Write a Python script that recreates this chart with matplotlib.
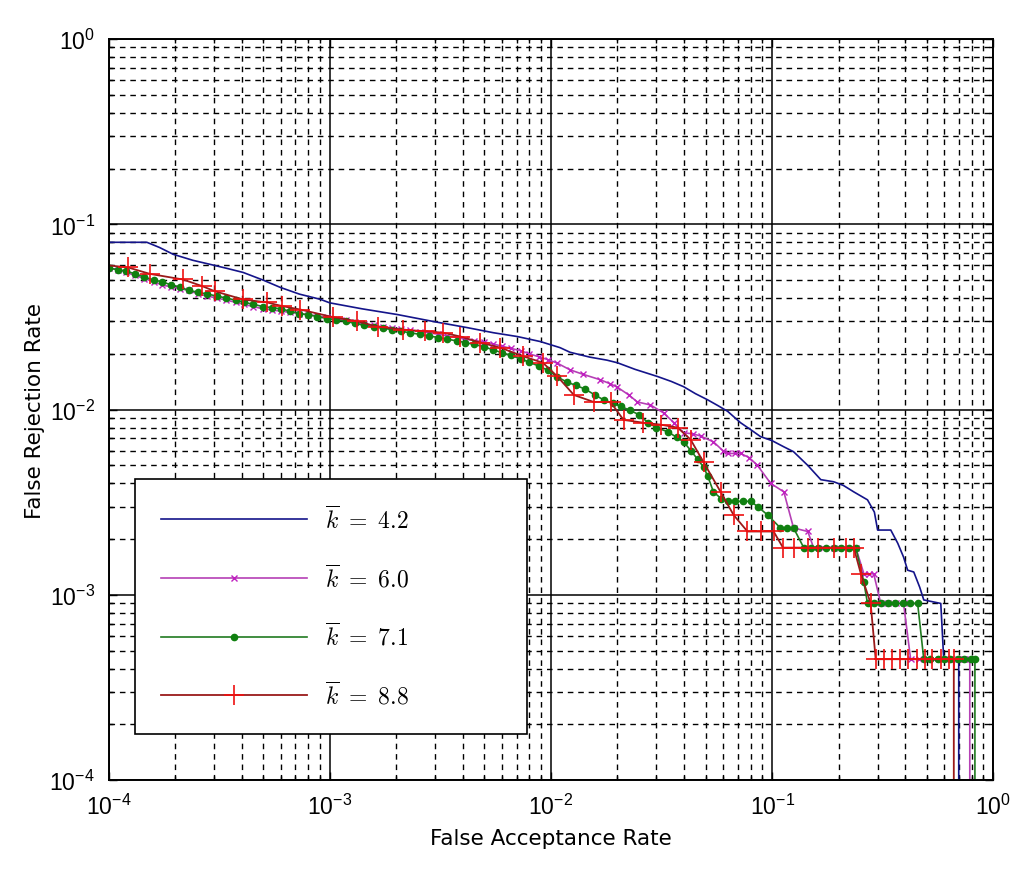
import matplotlib
matplotlib.use("Agg")
import matplotlib.pyplot as plt
from matplotlib.font_manager import FontProperties
from matplotlib.ticker import LogLocator, NullFormatter

plt.rcParams["font.family"] = ["Liberation Sans", "DejaVu Sans"]
plt.rcParams["mathtext.fontset"] = "custom"
plt.rcParams["mathtext.rm"] = "Liberation Sans"
plt.rcParams["mathtext.it"] = "Liberation Sans:italic"
plt.rcParams["mathtext.bf"] = "Liberation Sans:bold"

# ----------------------------
# Data
# ----------------------------
labels = [r"$\overline{k}\ =\ 4.2$", r"$\overline{k}\ =\ 6.0$",
          r"$\overline{k}\ =\ 7.1$", r"$\overline{k}\ =\ 8.8$"]

far_42 = [1.0e-4, 1.49e-4, 1.7e-4, 1.96e-4, 2.4e-4, 2.88e-4, 3.4e-4, 4.06e-4, 5.0e-4, 5.97e-4,
          7.3e-4, 9.06e-4, 1.0e-3, 1.4e-3, 2.02e-3, 2.94e-3, 4.19e-3, 5.5e-3, 7.05e-3, 8.96e-3,
          0.011, 0.0122, 0.0150, 0.0179, 0.0200, 0.0240, 0.0303, 0.0350, 0.0398, 0.0450,
          0.0511, 0.0570, 0.0629, 0.072, 0.080, 0.0887, 0.100, 0.113, 0.125, 0.145,
          0.166, 0.190, 0.210, 0.234, 0.270, 0.290, 0.300, 0.344, 0.370, 0.393,
          0.410, 0.437, 0.465, 0.485, 0.579, 0.597, 0.698, 0.698]
frr_42 = [0.080, 0.080, 0.075, 0.0689, 0.064, 0.0608, 0.058, 0.055, 0.050, 0.0457,
          0.042, 0.0394, 0.0377, 0.035, 0.0326, 0.0299, 0.0277, 0.026, 0.0248, 0.0233,
          0.0216, 0.0204, 0.0192, 0.0185, 0.0179, 0.0165, 0.0151, 0.0142, 0.0133, 0.0122,
          0.0113, 0.0105, 0.0098, 0.0085, 0.0078, 0.00715, 0.0068, 0.0063, 0.00593, 0.0050,
          0.00419, 0.00408, 0.0039, 0.0036, 0.00326, 0.0028, 0.00224, 0.00224, 0.0019, 0.0016,
          0.00136, 0.00133, 0.0011, 0.00094, 0.0009, 0.00045, 0.00045, 1e-6]

far_60 = [1.0e-4, 1.1e-4, 1.2e-4, 1.32e-4, 1.45e-4, 1.6e-4, 1.75e-4, 1.92e-4, 2.1e-4, 2.3e-4,
          2.55e-4, 2.8e-4, 3.1e-4, 3.4e-4, 3.75e-4, 4.1e-4, 4.5e-4, 5.0e-4, 5.5e-4, 6.0e-4,
          6.6e-4, 7.3e-4, 8.0e-4, 8.8e-4, 9.7e-4, 1.07e-3, 1.18e-3, 1.3e-3, 1.43e-3, 1.58e-3,
          1.74e-3, 1.92e-3, 2.1e-3, 2.3e-3, 2.55e-3, 2.8e-3, 3.1e-3, 3.4e-3, 3.75e-3, 4.1e-3,
          4.5e-3, 5.0e-3, 5.5e-3, 6.0e-3, 6.6e-3, 7.3e-3, 8.0e-3, 8.8e-3, 9.7e-3, 0.0107,
          0.0122, 0.0140, 0.0167, 0.0185, 0.0200, 0.0225, 0.0246, 0.0282, 0.0323, 0.0360,
          0.0398, 0.0440, 0.0475, 0.0543, 0.0600, 0.0629, 0.0680, 0.0720, 0.0790, 0.0859,
          0.0985, 0.113, 0.125, 0.145, 0.154, 0.170, 0.190, 0.212, 0.239, 0.260,
          0.273, 0.288, 0.310, 0.335, 0.365, 0.393, 0.423, 0.460, 0.500, 0.540,
          0.590, 0.640, 0.690, 0.740, 0.783, 0.783]
frr_60 = [0.058, 0.057, 0.055, 0.053, 0.051, 0.049, 0.047, 0.046, 0.045, 0.044,
          0.042, 0.041, 0.040, 0.039, 0.038, 0.037, 0.036, 0.035, 0.0345, 0.034,
          0.0335, 0.033, 0.0325, 0.032, 0.0315, 0.031, 0.0303, 0.0296, 0.029, 0.0285,
          0.028, 0.0276, 0.0272, 0.0268, 0.0264, 0.026, 0.0255, 0.025, 0.0245, 0.024,
          0.0236, 0.0232, 0.0226, 0.022, 0.0214, 0.0208, 0.0200, 0.0193, 0.0186, 0.0178,
          0.0164, 0.0155, 0.0145, 0.0138, 0.0132, 0.0120, 0.0110, 0.0106, 0.0096, 0.0085,
          0.0075, 0.0074, 0.0072, 0.0067, 0.0060, 0.0058, 0.0058, 0.0058, 0.0055, 0.0050,
          0.0040, 0.0036, 0.0023, 0.0022, 0.0018, 0.0018, 0.0018, 0.0018, 0.0018, 0.0013,
          0.0013, 0.0013, 0.0009, 0.0009, 0.0009, 0.0009, 0.00045, 0.00045, 0.00045, 0.00045,
          0.00045, 0.00045, 0.00045, 0.00045, 0.00045, 1e-6]

far_71 = [1.0e-4, 1.1e-4, 1.2e-4, 1.32e-4, 1.45e-4, 1.6e-4, 1.75e-4, 1.92e-4, 2.1e-4, 2.3e-4,
          2.55e-4, 2.8e-4, 3.1e-4, 3.4e-4, 3.75e-4, 4.1e-4, 4.5e-4, 5.0e-4, 5.5e-4, 6.0e-4,
          6.6e-4, 7.3e-4, 8.0e-4, 8.8e-4, 9.7e-4, 1.07e-3, 1.18e-3, 1.3e-3, 1.43e-3, 1.58e-3,
          1.74e-3, 1.92e-3, 2.1e-3, 2.3e-3, 2.55e-3, 2.8e-3, 3.1e-3, 3.4e-3, 3.75e-3, 4.1e-3,
          4.5e-3, 5.0e-3, 5.5e-3, 6.0e-3, 6.6e-3, 7.3e-3, 8.0e-3, 8.8e-3, 9.7e-3, 0.0107,
          0.0118, 0.0130, 0.0143, 0.0158, 0.0173, 0.0190, 0.0208, 0.0228, 0.0250, 0.0275,
          0.0300, 0.0337, 0.0370, 0.0398, 0.0430, 0.0460, 0.0490, 0.0511, 0.0543, 0.0590,
          0.0629, 0.0680, 0.0740, 0.0800, 0.0860, 0.0955, 0.109, 0.117, 0.125, 0.139,
          0.150, 0.162, 0.175, 0.190, 0.205, 0.222, 0.239, 0.260, 0.270, 0.290,
          0.310, 0.335, 0.360, 0.390, 0.420, 0.455, 0.485, 0.520, 0.560, 0.600,
          0.640, 0.690, 0.740, 0.790, 0.826, 0.826]
frr_71 = [0.058, 0.057, 0.056, 0.054, 0.052, 0.050, 0.049, 0.047, 0.046, 0.044,
          0.043, 0.042, 0.041, 0.040, 0.039, 0.038, 0.037, 0.036, 0.0355, 0.035,
          0.034, 0.033, 0.0325, 0.0318, 0.031, 0.0305, 0.030, 0.0292, 0.0285, 0.028,
          0.0275, 0.027, 0.0265, 0.026, 0.0255, 0.025, 0.0245, 0.024, 0.0235, 0.023,
          0.0225, 0.0218, 0.021, 0.0203, 0.0196, 0.0188, 0.0180, 0.0172, 0.0163, 0.0150,
          0.0141, 0.0135, 0.0129, 0.0120, 0.0113, 0.0108, 0.0104, 0.0099, 0.0094, 0.0085,
          0.0080, 0.0076, 0.0071, 0.0067, 0.0060, 0.0054, 0.0049, 0.0044, 0.0036, 0.0033,
          0.0032, 0.0032, 0.0032, 0.0032, 0.0030, 0.0027, 0.0023, 0.0023, 0.0023, 0.0018,
          0.0018, 0.0018, 0.0018, 0.0018, 0.0018, 0.0018, 0.0018, 0.00117, 0.0009, 0.0009,
          0.0009, 0.0009, 0.0009, 0.0009, 0.0009, 0.0009, 0.00045, 0.00045, 0.00045, 0.00045,
          0.00045, 0.00045, 0.00045, 0.00045, 0.00045, 1e-6]

far_88 = [1.0e-4, 1.22e-4, 1.54e-4, 2.17e-4, 2.65e-4, 3.03e-4, 4.06e-4, 5.2e-4, 6.1e-4, 7.35e-4,
          1.03e-3, 1.33e-3, 1.65e-3, 2.15e-3, 2.7e-3, 3.26e-3, 3.9e-3, 4.8e-3, 5.9e-3, 7.5e-3,
          9.2e-3, 0.0107, 0.0127, 0.0156, 0.0186, 0.0213, 0.0262, 0.0313, 0.0374, 0.0428,
          0.0490, 0.0585, 0.0670, 0.0774, 0.0887, 0.1016, 0.112, 0.125, 0.145, 0.162,
          0.190, 0.215, 0.234, 0.252, 0.279, 0.294, 0.320, 0.350, 0.380, 0.410,
          0.450, 0.490, 0.530, 0.580, 0.630, 0.663, 0.663]
frr_88 = [0.060, 0.0586, 0.054, 0.0504, 0.0464, 0.0435, 0.0393, 0.0379, 0.0362, 0.0347,
          0.0316, 0.030, 0.028, 0.027, 0.0265, 0.026, 0.0248, 0.023, 0.0216, 0.0194,
          0.0179, 0.0151, 0.012, 0.011, 0.011, 0.0088, 0.0085, 0.0083, 0.0080, 0.0069,
          0.0052, 0.0036, 0.0027, 0.0022, 0.0022, 0.0022, 0.0018, 0.0018, 0.0018, 0.0018,
          0.0018, 0.0018, 0.0018, 0.0013, 0.0009, 0.00045, 0.00045, 0.00045, 0.00045, 0.00045,
          0.00045, 0.00045, 0.00045, 0.00045, 0.00045, 0.00045, 1e-6]

# ----------------------------
# Plot
# ----------------------------
fig = plt.figure(figsize=(10.24, 8.70), dpi=100)
ax = fig.add_axes([0.106, 0.102, 0.864, 0.852])

ax.plot(far_42, frr_42, color="#14148a", lw=1.2, label=labels[0])
ax.plot(far_60, frr_60, color="#b540b5", lw=1.2, marker="x", ms=5, mew=1.0,
        mec="#c020c0", label=labels[1])
ax.plot(far_71, frr_71, color="#207a20", lw=1.2, marker="o", ms=4.5,
        mfc="#108010", mec="#108010", label=labels[2])
ax.plot(far_88, frr_88, color="#9a1a1a", lw=1.3, marker="+", ms=15, mew=1.2,
        mec="#ee1010", markevery=slice(1, None), label=labels[3])

ax.set_xscale("log")
ax.set_yscale("log")
ax.set_xlim(1e-4, 1)
ax.set_ylim(1e-4, 1)

for axis in (ax.xaxis, ax.yaxis):
    axis.set_major_locator(LogLocator(base=10, numticks=10))
    axis.set_minor_locator(LogLocator(base=10, subs=range(2, 10), numticks=20))
    axis.set_minor_formatter(NullFormatter())

ax.grid(which="major", ls="-", color="black", lw=1.1)
ax.grid(which="minor", ls=(0, (4, 3.5)), color="black", lw=1.0)
ax.tick_params(which="both", direction="in", top=True, right=True, colors="black")
ax.tick_params(which="major", length=6, width=1, labelsize=16.5, pad=10)
ax.tick_params(which="minor", length=3, width=1)
for s in ax.spines.values():
    s.set_linewidth(1.4)

ax.set_xlabel("False Acceptance Rate", fontsize=15.5, family="DejaVu Sans", labelpad=6)
ax.set_ylabel("False Rejection Rate", fontsize=15.5, family="DejaVu Sans", labelpad=3)

leg_font = FontProperties(family="DejaVu Serif", size=17, math_fontfamily="cm")
leg = ax.legend(loc="lower left", bbox_to_anchor=(0.03, 0.062, 0.443, 0.347),
                mode="expand", prop=leg_font, handlelength=6.2, labelspacing=1.3,
                borderpad=1.1, handletextpad=0.75, fancybox=False, framealpha=1,
                edgecolor="black", borderaxespad=0)
leg.get_frame().set_linewidth(1.2)

fig.savefig("out.png", dpi=100)
